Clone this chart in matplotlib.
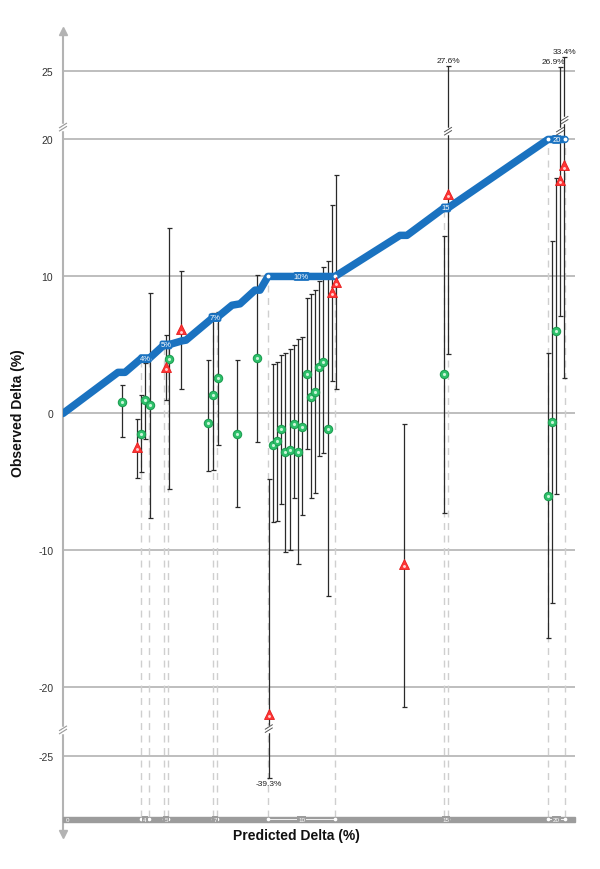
import matplotlib
matplotlib.use('Agg')
import matplotlib.pyplot as plt
import numpy as np

plt.rcParams['font.family'] = ['Liberation Sans', 'DejaVu Sans']

# ---------------- data ----------------
# horizontal (stretched predicted-delta) position of each study
xpos = [2.94, 3.72, 3.92, 4.12, 4.35, 5.14, 5.32, 5.92, 7.27, 7.52, 7.74, 8.72, 9.72,
        10.29, 10.52, 10.70, 10.92, 11.12, 11.34, 11.54, 11.75, 11.97, 12.19, 12.39,
        12.59, 12.79, 13.02, 13.24, 13.44, 13.65,
        17.05, 19.05, 19.25, 24.24, 24.44, 24.65, 24.85, 25.07]
observed = [0.87, -2.47, -1.5, 0.95, 0.6, 3.42, 3.95, 6.13, -0.68, 1.38, 2.57, -1.5, 4.02,
            -21.9, -2.3, -2.04, -1.17, -2.84, -2.65, -0.78, -2.8, -1.0, 2.9, 1.22,
            1.6, 3.4, 3.78, -1.12, 8.85, 9.6,
            -11.0, 2.9, 16.0, -6.0, -0.6, 6.0, 17.05, 18.1]
ci_low = [-1.7, -4.7, -4.3, -1.9, -7.6, 1.0, -5.5, 1.77, -4.2, -4.1, -2.3, -6.8, -2.1,
          -39.3, -7.9, -7.84, -6.63, -10.1, -10.0, -6.14, -11.0, -7.43, -2.62, -6.14,
          -5.83, -3.13, -2.91, -13.3, 2.39, 1.78,
          -21.4, -7.3, 4.35, -16.4, -13.8, -5.9, 7.1, 2.56]
ci_high = [2.08, -0.41, 1.36, 3.66, 8.8, 5.75, 13.5, 10.4, 3.9, 7.3, 7.4, 3.9, 10.07,
           -4.76, 3.64, 3.74, 4.3, 4.42, 4.7, 5.0, 5.4, 5.59, 8.41, 8.7,
           9.0, 9.7, 10.7, 11.1, 15.2, 17.4,
           -0.75, 12.95, 27.6, 4.4, 12.6, 17.2, 26.9, 33.4]
outside = [0, 1, 0, 0, 0, 1, 0, 1, 0, 0, 0, 0, 0,
           1, 0, 0, 0, 0, 0, 0, 0, 0, 0, 0,
           0, 0, 0, 0, 1, 1,
           1, 0, 1, 0, 0, 0, 1, 1]

# predicted-delta curve
curve_x = [0, 2.75, 3.1, 3.9, 4.3, 5.05, 5.25, 5.95, 6.15, 7.5, 7.7, 8.45, 8.85,
           9.6, 9.85, 10.25, 13.6, 16.85, 17.2, 19.05, 19.25, 24.25, 25.1]
curve_y = [0, 3.0, 3.0, 4.0, 4.0, 5.0, 5.0, 5.3, 5.35, 7.0, 7.0, 7.9, 8.0,
           9.0, 9.0, 10.0, 10.0, 13.0, 13.0, 15.0, 15.0, 20.0, 20.0]

# plateaus of the predicted curve
plat_start = [3.9, 5.05, 7.5, 10.25, 19.05, 24.25]
plat_end = [4.3, 5.25, 7.7, 13.6, 19.25, 25.1]
plat_value = [4, 5, 7, 10, 15, 20]
plat_curve_label = ['4%', '5%', '7%', '10%', '15', '20']
plat_axis_label = ['4', '5', '7', '10', '15', '20']

y_ticks = [-25, -20, -10, 0, 10, 20, 25]
y_ticklabels = ['-25', '-20', '-10', '0', '10', '20', '25']

# ---------------- figure ----------------
W, H = 600, 870
fig = plt.figure(figsize=(6, 8.7), dpi=100)
ax = fig.add_axes([63 / W, 1 - 840 / H, (575 - 63) / W, (840 - 27) / H])
XMAX = 25.6
YMIN, YMAX = -31.06, 28.28
ax.set_xlim(0, XMAX)
ax.set_ylim(YMIN, YMAX)
for s in ax.spines.values():
    s.set_visible(False)
ax.set_xticks([])
ax.set_yticks(y_ticks)
ax.set_yticklabels(y_ticklabels)
ax.tick_params(axis='y', length=0, pad=7, labelsize=7.5, labelcolor='#333333')

PX = XMAX / 512.0           # data units per pixel (x)
PY = (YMAX - YMIN) / 813.0  # data units per pixel (y)

grid_c = '#b3b3b3'
for t in y_ticks:
    ax.axhline(t, color=grid_c, lw=1.2, zorder=1)

# y axis with arrows
ax.plot([0, 0], [YMIN + 6 * PY, YMAX - 6 * PY], color=grid_c, lw=1.5, zorder=2, clip_on=False)
ax.plot([0], [YMAX - 5 * PY], marker='^', ms=6, color=grid_c, clip_on=False, zorder=2)
ax.plot([0], [YMIN + 5 * PY], marker='v', ms=6, color=grid_c, clip_on=False, zorder=2)


def brk(x, y, color, lw=0.8):
    ax.plot([x, x], [y - 2 * PY, y + 2 * PY], color='white', lw=2.5, zorder=6, clip_on=False)
    for off in (-1.6, 1.6):
        ax.plot([x - 3.5 * PX, x + 3.5 * PX], [y + (off - 2.2) * PY, y + (off + 2.2) * PY],
                color=color, lw=lw, zorder=7, clip_on=False)


brk(0, 20.9, '#999999')
brk(0, -23.1, '#999999')

# bottom bar
bar_lo, bar_hi = -29.85, -29.42
ax.add_patch(plt.Rectangle((0, bar_lo), XMAX, bar_hi - bar_lo, color='#9c9c9c', zorder=2, clip_on=False))
bar_mid = (bar_lo + bar_hi) / 2
ax.text(0.12, bar_mid, '0', color='white', fontsize=4.5, ha='left', va='center', zorder=4)
for s0, s1, lab in zip(plat_start, plat_end, plat_axis_label):
    ax.plot([s0, s1], [bar_mid, bar_mid], color='white', lw=0.6, zorder=3)
    ax.plot([s0, s1], [bar_mid, bar_mid], ls='none', marker='o', ms=1.6, color='white', zorder=3)
    ax.text((s0 + s1) / 2, bar_mid, lab, color='white', fontsize=4.5, ha='center', va='center',
            zorder=4, bbox=dict(boxstyle='square,pad=0.15', fc='#9c9c9c', ec='none'))

# dashed guides from bar to curve
for s0, s1, v in zip(plat_start, plat_end, plat_value):
    for xx in (s0, s1):
        ax.plot([xx, xx], [bar_hi, v], color='#cfcfcf', lw=1.0, ls=(0, (5, 4)), zorder=1)

# predicted curve
blue = '#1a72c0'
ax.plot(curve_x, curve_y, color=blue, lw=5.4, solid_joinstyle='round',
        solid_capstyle='round', zorder=4)
for s0, s1, v, lab in zip(plat_start, plat_end, plat_value, plat_curve_label):
    ax.plot([s0, s1], [v, v], ls='none', marker='o', ms=1.8, color='white', zorder=5)
    ax.text((s0 + s1) / 2, v, lab, color='white', fontsize=5.5, ha='center', va='center', zorder=5,
            bbox=dict(boxstyle='round,pad=0.12,rounding_size=0.3', fc=blue, ec='none'))


# clipped display of values beyond +-25
def disp(v):
    a = abs(v)
    if a <= 25:
        return v
    return np.sign(v) * (25 + 3.5 * np.log(a / 25))


xs = np.array(xpos)
obs = np.array(observed)
lo_d = np.array([disp(v) for v in ci_low])
hi_d = np.array([disp(v) for v in ci_high])

ax.errorbar(xs, obs, yerr=[obs - lo_d, hi_d - obs], fmt='none', ecolor='#2a2a2a',
            elinewidth=0.9, capsize=1.8, capthick=0.9, zorder=3)

# break marks and labels for clipped intervals
n = len(xpos)
for i, (x, l, h) in enumerate(zip(xpos, ci_low, ci_high)):
    if h > 25:
        brk(x, 20.6 if h < 30 else 21.4, '#555555', lw=0.7)
        crowded = i + 1 < n and ci_high[i + 1] > 25 and ci_high[i + 1] > h
        lx = x - 7 * PX if crowded else x
        ax.text(lx, disp(h) + 2 * PY, f'{h:.1f}%', fontsize=6, ha='center', va='bottom', color='#222222')
    if l < -25:
        brk(x, -23.0, '#555555', lw=0.7)
        ax.text(x, disp(l) - 2 * PY, f'{l:.1f}%', fontsize=6, ha='center', va='top', color='#222222')

out = np.array(outside) == 1
ax.plot(xs[~out], obs[~out], ls='none', marker='o', ms=6.0, mfc='#2fc26c', mec='#1e9e52',
        mew=0.8, zorder=6)
ax.plot(xs[~out], obs[~out], ls='none', marker='.', ms=2.5, color='#c9f5d8', zorder=7)
ax.plot(xs[out], obs[out], ls='none', marker='^', ms=7.3, mfc='#ff3535', mec='#e51c1c',
        mew=0.6, zorder=6)
ax.plot(xs[out], obs[out] - 0.15, ls='none', marker='.', ms=2.2, color='#ffd0d0', zorder=7)

fig.text(18 / W, 1 - 413 / H, 'Observed Delta (%)', rotation=90, ha='center', va='center',
         fontsize=10, fontweight='bold', color='#111111')
fig.text(296 / W, 1 - 836 / H, 'Predicted Delta (%)', ha='center', va='center',
         fontsize=10, fontweight='bold', color='#111111')

fig.savefig('out.png', dpi=100)
